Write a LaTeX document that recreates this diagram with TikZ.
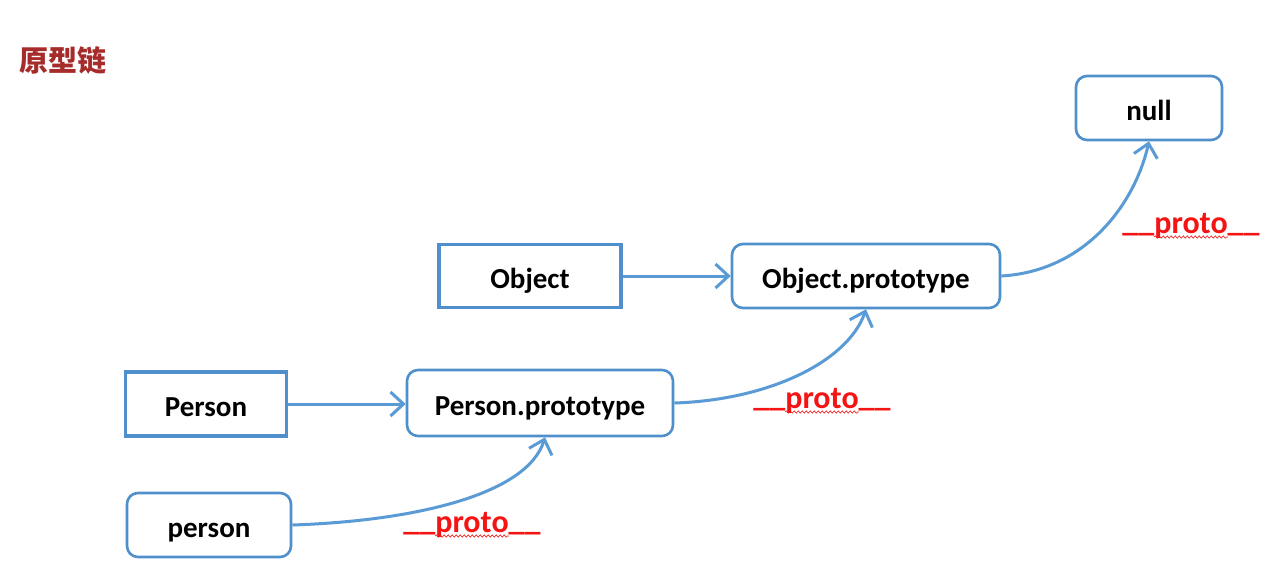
\documentclass[tikz,border=0pt]{standalone}
\usepackage{fontspec}
\setmainfont{Carlito}
\newfontfamily\cjk{Noto Sans CJK SC}
\usetikzlibrary{arrows.meta,decorations.pathmorphing}
\definecolor{lineblue}{HTML}{5B9BD5}
\definecolor{boxblue}{HTML}{4F8FCB}
\definecolor{titlered}{HTML}{A62C2B}
\definecolor{protored}{HTML}{F41414}
\newcommand{\uscore}{\raisebox{2pt}{\_\_}}
\begin{document}
\begin{tikzpicture}[x=1pt,y=-1pt,
  lbl/.style={font=\fontsize{29}{32}\selectfont\bfseries, text=black, inner sep=0pt, text height=25pt, text depth=0pt},
  sqbox/.style={lbl, draw=boxblue, line width=3.4pt},
  rbox/.style={lbl, draw=boxblue, line width=2.6pt, rounded corners=11pt},
  link/.style={draw=lineblue, line width=3pt, -{Straight Barb[length=13pt,width=24pt,line width=3pt]}},
  protolbl/.style={text=protored, font=\fontsize{32}{35}\selectfont\bfseries, inner sep=0pt, anchor=base},
  squiggle/.style={draw=protored, line width=0.6pt, decorate, decoration={snake, amplitude=1.2pt, segment length=4pt}}
]
\useasboundingbox (0,0) rectangle (1274,579);
\fill[white] (0,0) rectangle (1274,579);

\node[font=\cjk\fontsize{29}{32}\selectfont\bfseries, text=titlered, anchor=west, inner sep=0pt] (title) at (19,60) {原型链};

\node[sqbox, minimum width=161pt, minimum height=64pt] (Pc) at (206,404) {Person};
\node[sqbox, minimum width=182pt, minimum height=63pt] (Oc) at (530,276) {Object};
\node[rbox, minimum width=164pt, minimum height=64pt] (pi) at (209,525) {person};
\node[rbox, minimum width=266pt, minimum height=66pt] (pp) at (540,403) {Person.prototype};
\node[rbox, minimum width=268pt, minimum height=64pt] (op) at (866,276) {Object.prototype};
\node[rbox, minimum width=146pt, minimum height=64pt] (nl) at (1149,108) {null};

\draw[link] (Pc.east) -- (Pc.east -| pp.west);
\draw[link] (Oc.east) -- (Oc.east -| op.west);
\draw[link] (pi.east) .. controls +(120,-4) and +(-18,58) .. ([xshift=5pt]pp.south);
\draw[link] (pp.east) .. controls +(95,-3) and +(-18,52) .. (op.south);
\draw[link] (op.east) .. controls +(85,-5) and +(-14,62) .. (nl.south);

\node[protolbl] (l1) at (472,532) {\uscore proto\uscore};
\node[protolbl] (l2) at (822,408) {\uscore proto\uscore};
\node[protolbl] (l3) at (1191,233) {\uscore proto\uscore};
\foreach \l in {l1,l2,l3}
  \draw[squiggle] ([shift={(-37,4)}]\l.base) -- ([shift={(37,4)}]\l.base);
\end{tikzpicture}
\end{document}
